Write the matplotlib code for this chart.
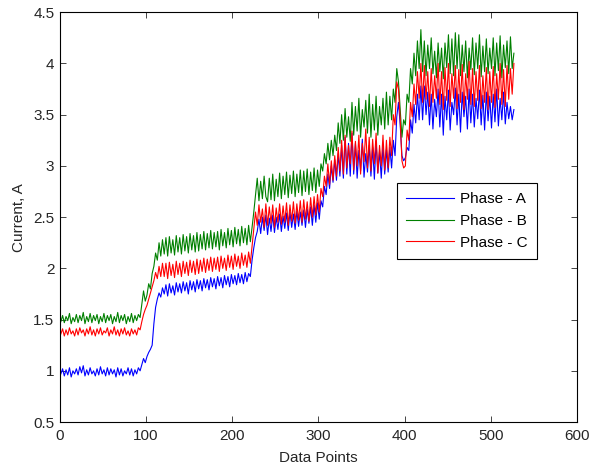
import matplotlib.pyplot as plt
import numpy as np

plt.rcParams['font.family'] = ['Liberation Sans', 'DejaVu Sans']

# one value every second data point (1, 3, 5, ... 527)
phase_a = [
    0.97, 1.02, 0.95, 1.01, 0.96, 1.03, 0.94, 1.00, 0.97, 1.02,
    0.96, 1.04, 0.98, 1.05, 0.95, 1.01, 0.96, 1.03, 0.97, 1.00,
    0.95, 1.02, 0.96, 1.04, 0.97, 1.01, 0.95, 1.03, 0.96, 1.02,
    0.97, 1.01, 0.94, 1.03, 0.96, 1.02, 0.95, 1.00, 0.97, 1.03,
    0.96, 1.02, 0.95, 1.01, 0.97, 1.03, 1.00, 1.06, 1.12, 1.08,
    1.14, 1.18, 1.21, 1.25, 1.46, 1.62, 1.70, 1.76, 1.72, 1.81,
    1.75, 1.84, 1.73, 1.85, 1.76, 1.83, 1.74, 1.86, 1.77, 1.85,
    1.76, 1.87, 1.78, 1.86, 1.75, 1.88, 1.79, 1.87, 1.77, 1.89,
    1.80, 1.88, 1.78, 1.90, 1.81, 1.89, 1.79, 1.91, 1.82, 1.90,
    1.80, 1.92, 1.83, 1.91, 1.81, 1.93, 1.84, 1.92, 1.82, 1.94,
    1.85, 1.93, 1.84, 1.95, 1.86, 1.94, 1.85, 1.96, 1.87, 1.95,
    1.92, 2.08, 2.20, 2.30, 2.36, 2.48, 2.34, 2.50, 2.37, 2.52,
    2.33, 2.49, 2.36, 2.52, 2.35, 2.50, 2.38, 2.53, 2.36, 2.51,
    2.39, 2.54, 2.37, 2.55, 2.40, 2.53, 2.38, 2.56, 2.41, 2.55,
    2.42, 2.57, 2.40, 2.58, 2.44, 2.60, 2.42, 2.62, 2.45, 2.64,
    2.48, 2.66, 2.60, 2.80, 2.72, 2.92, 2.78, 3.00, 2.84, 3.06,
    2.86, 3.12, 2.90, 3.20, 2.88, 3.28, 2.92, 3.22, 2.90, 3.32,
    2.92, 3.22, 2.88, 3.15, 2.95, 3.26, 2.89, 3.12, 2.94, 3.20,
    2.90, 3.18, 2.87, 3.24, 2.93, 3.14, 2.88, 3.20, 2.92, 3.16,
    2.94, 3.18, 2.98, 3.25, 3.10, 3.48, 3.62, 3.40, 3.10, 3.05,
    3.08, 3.18, 3.15, 3.45, 3.32, 3.60, 3.42, 3.70, 3.45, 3.78,
    3.45, 3.78, 3.50, 3.72, 3.40, 3.70, 3.36, 3.65, 3.48, 3.75,
    3.38, 3.70, 3.30, 3.68, 3.45, 3.74, 3.35, 3.62, 3.50, 3.76,
    3.40, 3.70, 3.33, 3.72, 3.48, 3.68, 3.36, 3.75, 3.42, 3.70,
    3.38, 3.66, 3.46, 3.74, 3.40, 3.69, 3.35, 3.72, 3.44, 3.68,
    3.37, 3.70, 3.43, 3.75, 3.39, 3.66, 3.45, 3.72, 3.41, 3.62,
    3.46, 3.58, 3.45, 3.55,
]

phase_b = [
    1.48, 1.54, 1.47, 1.53, 1.49, 1.56, 1.46, 1.52, 1.48, 1.55,
    1.47, 1.54, 1.49, 1.57, 1.46, 1.53, 1.48, 1.56, 1.47, 1.54,
    1.49, 1.55, 1.46, 1.53, 1.48, 1.56, 1.47, 1.54, 1.49, 1.55,
    1.46, 1.53, 1.48, 1.57, 1.47, 1.54, 1.49, 1.55, 1.46, 1.53,
    1.48, 1.56, 1.47, 1.54, 1.49, 1.55, 1.52, 1.65, 1.78, 1.68,
    1.74, 1.85, 1.80, 1.95, 2.02, 2.15, 2.08, 2.25, 2.12, 2.28,
    2.14, 2.30, 2.12, 2.31, 2.15, 2.28, 2.13, 2.32, 2.16, 2.30,
    2.14, 2.33, 2.17, 2.31, 2.15, 2.34, 2.18, 2.32, 2.16, 2.35,
    2.17, 2.33, 2.19, 2.36, 2.18, 2.34, 2.20, 2.37, 2.19, 2.35,
    2.21, 2.36, 2.18, 2.38, 2.22, 2.35, 2.20, 2.39, 2.23, 2.37,
    2.21, 2.40, 2.24, 2.38, 2.22, 2.41, 2.25, 2.39, 2.23, 2.42,
    2.26, 2.40, 2.55, 2.72, 2.88, 2.66, 2.85, 2.68, 2.90, 2.70,
    2.65, 2.88, 2.67, 2.92, 2.66, 2.87, 2.70, 2.93, 2.68, 2.90,
    2.72, 2.94, 2.69, 2.91, 2.73, 2.95, 2.70, 2.92, 2.74, 2.96,
    2.71, 2.95, 2.75, 2.97, 2.72, 2.94, 2.76, 2.98, 2.74, 2.96,
    2.80, 3.02, 2.95, 3.12, 3.02, 3.22, 3.06, 3.25, 3.10, 3.30,
    3.15, 3.42, 3.22, 3.50, 3.25, 3.56, 3.28, 3.48, 3.24, 3.62,
    3.30, 3.58, 3.34, 3.66, 3.28, 3.55, 3.38, 3.64, 3.32, 3.70,
    3.28, 3.60, 3.35, 3.68, 3.30, 3.58, 3.40, 3.66, 3.36, 3.72,
    3.40, 3.68, 3.45, 3.75, 3.62, 3.95, 3.82, 3.55, 3.28, 3.45,
    3.40, 3.70, 3.62, 3.95, 3.80, 4.10, 3.88, 4.22, 3.95, 4.33,
    3.92, 4.22, 3.88, 4.18, 3.95, 4.25, 3.90, 4.12, 3.86, 4.20,
    3.92, 4.15, 3.85, 4.20, 3.96, 4.28, 3.90, 4.24, 3.88, 4.30,
    3.95, 4.28, 3.88, 4.18, 3.92, 4.22, 3.86, 4.15, 3.94, 4.25,
    3.89, 4.20, 3.95, 4.28, 3.87, 4.17, 3.92, 4.24, 3.90, 4.15,
    3.95, 4.25, 3.88, 4.20, 3.93, 4.27, 3.86, 4.18, 3.96, 4.22,
    3.90, 4.26, 3.95, 4.10,
]

phase_c = [
    1.36, 1.41, 1.34, 1.40, 1.35, 1.42, 1.36, 1.39, 1.34, 1.41,
    1.35, 1.42, 1.37, 1.40, 1.34, 1.41, 1.36, 1.43, 1.35, 1.40,
    1.34, 1.41, 1.36, 1.42, 1.35, 1.39, 1.37, 1.42, 1.34, 1.40,
    1.36, 1.43, 1.35, 1.40, 1.34, 1.41, 1.36, 1.42, 1.35, 1.39,
    1.34, 1.41, 1.36, 1.40, 1.35, 1.42, 1.40, 1.48, 1.55, 1.60,
    1.64, 1.70, 1.76, 1.82, 1.88, 1.96, 1.90, 2.02, 1.92, 2.05,
    1.92, 2.05, 1.90, 2.06, 1.93, 2.04, 1.91, 2.07, 1.94, 2.05,
    1.92, 2.07, 1.95, 2.06, 1.93, 2.08, 1.96, 2.07, 1.94, 2.09,
    1.95, 2.08, 1.97, 2.10, 1.96, 2.09, 1.98, 2.11, 1.97, 2.10,
    1.99, 2.11, 1.97, 2.12, 2.00, 2.10, 1.98, 2.13, 2.01, 2.12,
    1.99, 2.14, 2.02, 2.12, 2.00, 2.15, 2.03, 2.13, 2.01, 2.16,
    2.05, 2.22, 2.40, 2.55, 2.42, 2.62, 2.45, 2.58, 2.40, 2.63,
    2.42, 2.60, 2.44, 2.62, 2.40, 2.59, 2.45, 2.63, 2.43, 2.61,
    2.45, 2.64, 2.42, 2.62, 2.46, 2.65, 2.44, 2.63, 2.47, 2.66,
    2.45, 2.67, 2.48, 2.65, 2.46, 2.69, 2.50, 2.70, 2.52, 2.72,
    2.55, 2.78, 2.70, 2.90, 2.80, 3.02, 2.82, 3.05, 2.86, 3.10,
    2.90, 3.18, 2.95, 3.25, 2.92, 3.30, 2.98, 3.20, 3.02, 3.34,
    2.96, 3.24, 3.00, 3.30, 2.92, 3.22, 3.04, 3.36, 2.98, 3.28,
    2.95, 3.26, 3.02, 3.32, 2.93, 3.20, 3.00, 3.30, 2.96, 3.25,
    2.98, 3.28, 3.10, 3.50, 3.40, 3.82, 3.75, 3.45, 3.05, 2.98,
    3.00, 3.35, 3.25, 3.62, 3.48, 3.80, 3.60, 3.92, 3.66, 4.00,
    3.62, 3.98, 3.65, 3.92, 3.58, 3.95, 3.62, 3.88, 3.66, 4.00,
    3.60, 3.92, 3.55, 3.96, 3.64, 4.00, 3.58, 3.90, 3.66, 3.98,
    3.56, 3.94, 3.62, 3.99, 3.55, 3.90, 3.65, 4.02, 3.60, 3.95,
    3.58, 3.92, 3.64, 3.98, 3.56, 3.88, 3.62, 3.96, 3.55, 3.92,
    3.62, 3.97, 3.57, 3.90, 3.65, 4.00, 3.60, 3.94, 3.58, 3.98,
    3.65, 3.95, 3.70, 4.00,
]

labels = ['Phase - A', 'Phase - B', 'Phase - C']
colors = ['#0000ff', '#008000', '#ff0000']

x = np.arange(1, 2 * len(phase_a), 2)

fig = plt.figure(figsize=(5.94, 4.70), dpi=100)
ax = fig.add_axes([0.101, 0.102, 0.870, 0.872])

for vals, lab, col in zip([phase_a, phase_b, phase_c], labels, colors):
    ax.plot(x, vals, color=col, lw=0.8, label=lab)

ax.set_xlim(0, 600)
ax.set_ylim(0.5, 4.5)
ax.set_xticks(np.arange(0, 601, 100))
ax.set_yticks(np.arange(0.5, 4.51, 0.5))
ax.set_yticklabels(['0.5', '1', '1.5', '2', '2.5', '3', '3.5', '4', '4.5'])
ax.tick_params(direction='in', top=True, right=True, length=4, width=0.6,
               labelsize=11, colors='#262626', labelcolor='#262626')
ax.tick_params(axis='x', pad=5)
ax.tick_params(axis='y', pad=4)
for s in ax.spines.values():
    s.set_linewidth(0.8)

ax.set_xlabel('Data Points', fontsize=11, color='#262626', labelpad=6)
ax.set_ylabel('Current, A', fontsize=11, color='#262626', labelpad=5)

leg = ax.legend(loc='upper left', bbox_to_anchor=(0.652, 0.583), fontsize=11,
                frameon=True, fancybox=False, edgecolor='black', framealpha=1,
                handlelength=3.15, handletextpad=0.4, borderpad=0.6,
                labelspacing=0.5, borderaxespad=0)
leg.get_frame().set_linewidth(0.8)

fig.savefig('out.png', dpi=100)
